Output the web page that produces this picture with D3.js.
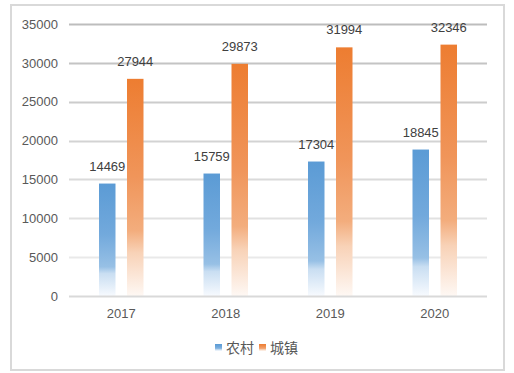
<!DOCTYPE html>
<html>
<head>
<meta charset="utf-8">
<script src="https://cdn.jsdelivr.net/npm/d3@7"></script>
<style>
  body { margin: 0; background: #fff; }
  svg text { font-family: "Liberation Sans", "Noto Sans CJK SC", sans-serif; }
</style>
</head>
<body>
<div id="chart"></div>
<script>
// chart data
var years = ["2017", "2018", "2019", "2020"];
var seriesNames = ["农村", "城镇"];
var rural = [14469, 15759, 17304, 18845];
var urban = [27944, 29873, 31994, 32346];
var yTicks = [0, 5000, 10000, 15000, 20000, 25000, 30000, 35000];

var W = 514, H = 373;
var margin = {top: 24, right: 27, bottom: 77, left: 69},
    width = W - margin.left - margin.right,
    height = H - margin.top - margin.bottom;

var svg = d3.select("#chart")
  .append("svg")
    .attr("width", W)
    .attr("height", H);

// outer frame
svg.append("rect")
  .attr("x", 11).attr("y", 5)
  .attr("width", 493).attr("height", 365)
  .attr("fill", "#fff")
  .attr("stroke", "#d9d9d9")
  .attr("stroke-width", 2);

// gradients per series
var defs = svg.append("defs");
function grad(id, stops) {
  var g = defs.append("linearGradient")
    .attr("id", id)
    .attr("x1", 0).attr("y1", 0).attr("x2", 0).attr("y2", 1);
  stops.forEach(function(s) {
    g.append("stop").attr("offset", s[0]).attr("stop-color", s[1]);
  });
}
grad("g0", [[0, "#5b9bd5"], [0.45, "#72a9dc"], [0.74, "#97c0e5"], [0.8, "#c9def2"], [1, "#f7fafe"]]);
grad("g1", [[0, "#ed7d31"], [0.45, "#f0955a"], [0.7, "#f3ad7d"], [0.8, "#f8d2b7"], [1, "#fef8f4"]]);

var g = svg.append("g")
  .attr("transform", "translate(" + margin.left + "," + margin.top + ")");

var y = d3.scaleLinear().domain([0, 35000]).range([height, 0]);
var x0 = d3.scaleBand().domain(years).range([0, width]);
var x1 = d3.scaleOrdinal().domain([0, 1]).range([-14, 14]);
var barW = 16.5;

// gridlines, darker at the top
var gridColor = d3.scaleLinear().domain([35000, 0]).range(["#bdbdbd", "#f0f0f0"]);
g.selectAll(".grid")
  .data(yTicks.filter(function(d) { return d > 0; }))
  .enter().append("line")
    .attr("x1", 0).attr("x2", width)
    .attr("y1", function(d) { return Math.round(y(d)) + 0.5; })
    .attr("y2", function(d) { return Math.round(y(d)) + 0.5; })
    .attr("stroke", function(d) { return gridColor(d); })
    .attr("stroke-width", 2);

// y axis labels
var yAxis = g.append("g")
  .call(d3.axisLeft(y).tickValues(yTicks).tickFormat(d3.format("d")).tickSize(0).tickPadding(11));
yAxis.select(".domain").remove();
yAxis.selectAll("text")
  .attr("fill", "#595959")
  .style("font-size", "13px");

// bars
var series = [rural, urban];
series.forEach(function(vals, si) {
  g.selectAll(".bar" + si)
    .data(vals)
    .enter().append("rect")
      .attr("x", function(d, i) { return x0(years[i]) + x0.bandwidth() / 2 + x1(si) - barW / 2; })
      .attr("y", function(d) { return y(d); })
      .attr("width", barW)
      .attr("height", function(d) { return height - y(d); })
      .attr("fill", "url(#g" + si + ")");

  g.selectAll(".lab" + si)
    .data(vals)
    .enter().append("text")
      .attr("x", function(d, i) { return x0(years[i]) + x0.bandwidth() / 2 + x1(si); })
      .attr("y", function(d) { return y(d) - 13; })
      .attr("text-anchor", "middle")
      .attr("fill", "#404040")
      .style("font-size", "13px")
      .text(function(d) { return d; });
});

// x axis
g.append("line")
  .attr("x1", 0).attr("x2", width)
  .attr("y1", height + 0.5).attr("y2", height + 0.5)
  .attr("stroke", "#d9d9d9")
  .attr("stroke-width", 2);

var xAxis = g.append("g")
  .attr("transform", "translate(0," + height + ")")
  .call(d3.axisBottom(x0).tickSize(0).tickPadding(13));
xAxis.select(".domain").remove();
xAxis.selectAll("text")
  .attr("fill", "#595959")
  .style("font-size", "13px");

// legend
var legend = svg.append("g").attr("transform", "translate(215,348)");
var lx = [0, 44];
seriesNames.forEach(function(name, i) {
  legend.append("rect")
    .attr("x", lx[i]).attr("y", -4)
    .attr("width", 7).attr("height", 7)
    .attr("fill", "url(#g" + i + ")");
  legend.append("text")
    .attr("x", lx[i] + 11).attr("y", 5)
    .attr("fill", "#595959")
    .style("font-family", "'Noto Sans CJK SC', sans-serif")
    .style("font-size", "14px")
    .text(name);
});
</script>
</body>
</html>
